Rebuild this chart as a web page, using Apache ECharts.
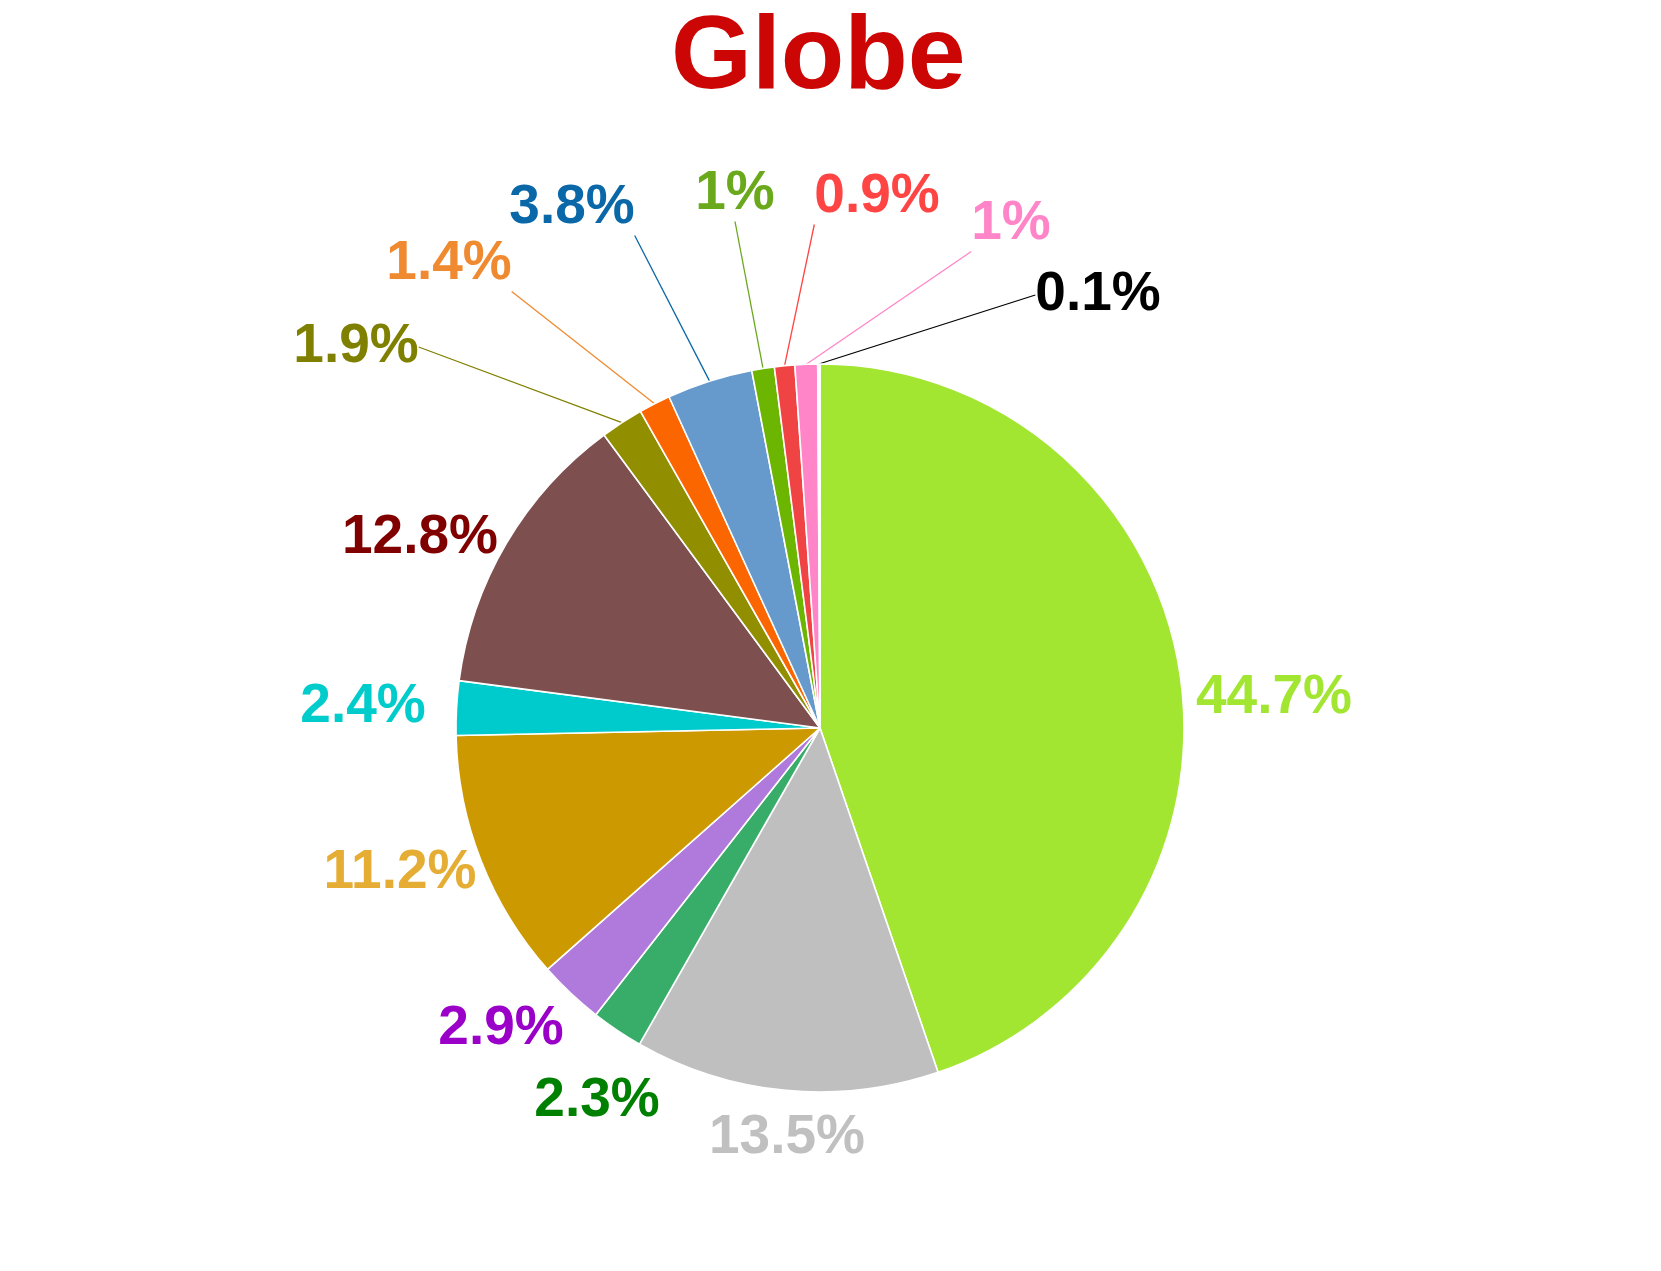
<!DOCTYPE html>
<html>
<head>
<meta charset="utf-8">
<title>Globe</title>
<script src="https://cdn.jsdelivr.net/npm/echarts@6/dist/echarts.min.js"></script>
<style>
  html, body { margin: 0; padding: 0; background: #ffffff; }
  #chart { width: 1661px; height: 1271px; }
</style>
</head>
<body>
<div id="chart"></div>
<script>
// slices, clockwise from 12 o'clock
const categories = ['s01', 's02', 's03', 's04', 's05', 's06', 's07', 's08', 's09', 's10', 's11', 's12', 's13', 's14'];
const shares = [44.7, 13.5, 2.3, 2.9, 11.2, 2.4, 12.8, 1.9, 1.4, 3.8, 1, 0.9, 1, 0.1];
const sliceColors = ['#a2e632', '#bfbfbf', '#38ad6a', '#b07adc', '#cc9900', '#00cbcc', '#7e4f4f',
                     '#918e00', '#fb6600', '#6699cc', '#6cb500', '#f04444', '#ff85c8', '#ffffff'];
const labelColors = ['#a2e632', '#c0c0c0', '#008000', '#9b00c8', '#e5ad33', '#00cccc', '#800000',
                     '#808000', '#ef8a30', '#0a67a8', '#6aa81c', '#ff4444', '#ff85c8', '#000000'];
const withLeader = [false, false, false, false, false, false, false, true, true, true, true, true, true, true];

// where each label sits (page px, text centre)
const labelSpots = [[1274, 698], [787, 1138], [597, 1101], [501, 1029], [400, 873], [363, 707], [420, 538],
                    [356, 347], [449, 264], [572, 208], [735, 194], [877, 197], [1011, 224], [1098, 295]];

const chart = echarts.init(document.getElementById('chart'));

const pieData = shares.map((v, i) => ({
  name: categories[i],
  value: v,
  itemStyle: { color: sliceColors[i] },
  label: { color: labelColors[i] },
  labelLine: { show: withLeader[i], lineStyle: { color: labelColors[i], width: 1.3 } }
}));

chart.setOption({
  backgroundColor: '#ffffff',
  animation: false,
  title: {
    text: 'Globe',
    left: 671,
    top: 7,
    padding: 0,
    textStyle: { color: '#cc0505', fontSize: 104, fontWeight: 'bold', fontFamily: 'Liberation Sans, Arial, sans-serif' }
  },
  series: [{
    type: 'pie',
    center: [820, 728],
    radius: 364,
    startAngle: 90,
    clockwise: true,
    avoidLabelOverlap: false,
    emphasis: { disabled: true },
    itemStyle: { borderColor: '#ffffff', borderWidth: 1.6 },
    label: {
      show: true,
      position: 'outside',
      formatter: '{c}%',
      fontSize: 55,
      fontWeight: 'bold',
      fontFamily: 'Liberation Sans, Arial, sans-serif'
    },
    labelLine: { length: 20, length2: 0, smooth: false },
    labelLayout: function (params) {
      const spot = labelSpots[params.dataIndex];
      const w = params.labelRect.width;
      const h = params.labelRect.height;
      const out = { x: spot[0], y: spot[1], align: 'center', verticalAlign: 'middle' };
      if (params.labelLinePoints && params.labelLinePoints.length) {
        const start = params.labelLinePoints[0];
        const x0 = spot[0] - w / 2, x1 = spot[0] + w / 2;
        const y0 = spot[1] - h / 2, y1 = spot[1] + h / 2;
        // hook onto a corner or the middle of a side of the label box
        let ex = start[0] < x0 ? x0 : (start[0] > x1 ? x1 : spot[0]);
        let ey = start[1] < y0 ? y0 : (start[1] > y1 ? y1 : spot[1]);
        const dx = Math.abs(start[0] - ex), dy = Math.abs(start[1] - ey);
        if (dx > 3 * dy) ey = spot[1];
        out.labelLinePoints = [start, [ex, ey]];
      }
      return out;
    },
    data: pieData
  }]
});
</script>
</body>
</html>
